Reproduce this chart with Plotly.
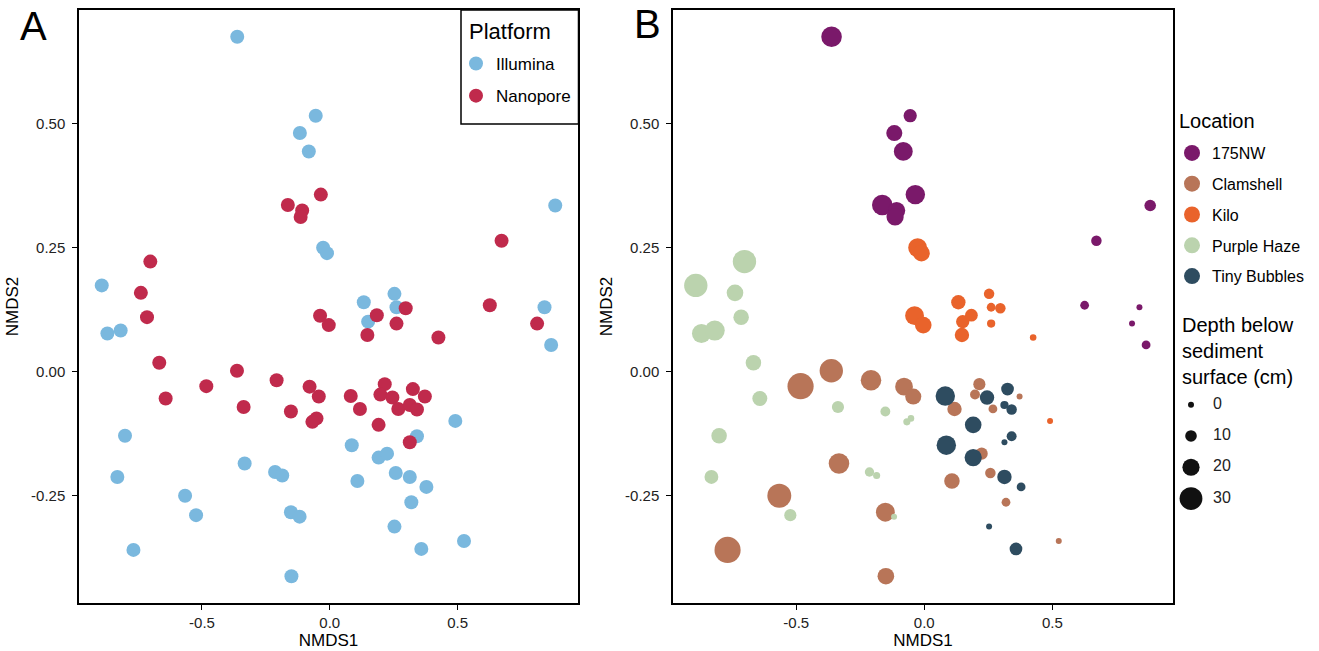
import plotly.graph_objects as go

# ---------------- data ----------------
illumina_x = [-0.362, -0.055, -0.117, -0.082, -0.026, -0.011, -0.892, -0.870, -0.818, 0.882,
              0.253, 0.133, 0.261, 0.840, 0.150, 0.866, -0.801, -0.831, -0.333, -0.214,
              -0.186, -0.566, -0.523, -0.152, -0.118, -0.768, -0.150, 0.341, 0.491, 0.086,
              0.191, 0.224, 0.258, 0.313, 0.378, 0.108, 0.319, 0.253, 0.525, 0.358]
illumina_y = [0.675, 0.516, 0.481, 0.444, 0.250, 0.239, 0.174, 0.077, 0.083, 0.335,
              0.157, 0.140, 0.130, 0.130, 0.101, 0.054, -0.129, -0.212, -0.185, -0.202,
              -0.209, -0.250, -0.289, -0.283, -0.292, -0.359, -0.412, -0.130, -0.099, -0.148,
              -0.173, -0.165, -0.204, -0.212, -0.232, -0.220, -0.263, -0.312, -0.341, -0.357]
illumina_location = ["175NW", "175NW", "175NW", "175NW", "Kilo", "Kilo", "Purple Haze", "Purple Haze", "Purple Haze", "175NW",
                     "Kilo", "Kilo", "Kilo", "175NW", "Kilo", "175NW", "Purple Haze", "Purple Haze", "Clamshell", "Purple Haze",
                     "Purple Haze", "Clamshell", "Purple Haze", "Clamshell", "Purple Haze", "Clamshell", "Clamshell", "Tiny Bubbles", "Kilo", "Tiny Bubbles",
                     "Tiny Bubbles", "Clamshell", "Clamshell", "Tiny Bubbles", "Tiny Bubbles", "Clamshell", "Clamshell", "Tiny Bubbles", "Clamshell", "Tiny Bubbles"]
illumina_depth = [26, 13, 18, 23, 23, 19, 31, 23, 25, 10,
                  8, 15, 5, 0, 13, 5, 17, 14, 26, 6,
                  2, 32, 11, 23, 0, 36, 19, 7, 0, 24,
                  20, 11, 8, 15, 5, 17, 5, 0, 0, 12]

nanopore_x = [-0.035, -0.164, -0.108, -0.114, -0.702, -0.739, -0.715, -0.038, -0.004, 0.672,
              0.297, 0.626, 0.184, 0.261, 0.811, 0.147, 0.425, -0.667, -0.363, -0.483,
              -0.642, -0.208, -0.079, -0.043, -0.337, -0.152, -0.052, -0.068, 0.082, 0.215,
              0.198, 0.245, 0.325, 0.372, 0.118, 0.268, 0.313, 0.341, 0.191, 0.313]
nanopore_y = [0.357, 0.336, 0.325, 0.312, 0.222, 0.159, 0.110, 0.113, 0.094, 0.264,
              0.128, 0.134, 0.114, 0.097, 0.097, 0.074, 0.069, 0.018, 0.002, -0.029,
              -0.054, -0.017, -0.030, -0.050, -0.071, -0.080, -0.094, -0.101, -0.049, -0.025,
              -0.046, -0.052, -0.035, -0.050, -0.075, -0.075, -0.067, -0.076, -0.107, -0.142]
nanopore_location = ["175NW", "175NW", "175NW", "175NW", "Purple Haze", "Purple Haze", "Purple Haze", "Kilo", "Kilo", "175NW",
                     "Kilo", "175NW", "Kilo", "Kilo", "175NW", "Kilo", "Kilo", "Purple Haze", "Clamshell", "Clamshell",
                     "Purple Haze", "Clamshell", "Clamshell", "Clamshell", "Purple Haze", "Purple Haze", "Purple Haze", "Purple Haze", "Tiny Bubbles", "Clamshell",
                     "Clamshell", "Tiny Bubbles", "Tiny Bubbles", "Clamshell", "Clamshell", "Clamshell", "Tiny Bubbles", "Tiny Bubbles", "Tiny Bubbles", "Tiny Bubbles"]
nanopore_depth = [24, 26, 20, 20, 31, 19, 17, 23, 19, 8,
                  8, 5, 12, 4, 0, 15, 1, 17, 31, 36,
                  16, 26, 21, 18, 11, 7, 1, 2, 24, 11,
                  7, 15, 12, 0, 15, 5, 4, 8, 19, 0]

platforms = ["Illumina", "Nanopore"]
locations = ["175NW", "Clamshell", "Kilo", "Purple Haze", "Tiny Bubbles"]
depth_legend_values = [0, 10, 20, 30]
x_tick_vals = [-0.5, 0.0, 0.5]
x_tick_text = ["-0.5", "0.0", "0.5"]
y_tick_vals = [-0.25, 0.0, 0.25, 0.50]
y_tick_text = ["-0.25", "0.00", "0.25", "0.50"]

# ---------------- style ----------------
FONT = "Liberation Sans, Arial, sans-serif"
platform_colors = {"Illumina": "#7AB8DE", "Nanopore": "#C02A4C"}
location_colors = {"175NW": "#7A196A", "Clamshell": "#B87558", "Kilo": "#E9632B",
                   "Purple Haze": "#BBD3AE", "Tiny Bubbles": "#2E4C60"}


def dsize(d):
    return 6 + 0.56 * d


all_x = illumina_x + nanopore_x
all_y = illumina_y + nanopore_y
all_loc = illumina_location + nanopore_location
all_depth = illumina_depth + nanopore_depth

fig = go.Figure()

# Panel A
plat_data = {"Illumina": (illumina_x, illumina_y), "Nanopore": (nanopore_x, nanopore_y)}
for p in platforms:
    xs, ys = plat_data[p]
    fig.add_trace(go.Scatter(x=xs, y=ys, mode="markers", name=p, legend="legend",
                             legendgroup=p,
                             marker=dict(color=platform_colors[p], size=14, opacity=1,
                                         line=dict(width=0)),
                             xaxis="x", yaxis="y"))

# Panel B
for loc in locations:
    idx = [i for i, l in enumerate(all_loc) if l == loc]
    fig.add_trace(go.Scatter(x=[all_x[i] for i in idx], y=[all_y[i] for i in idx],
                             mode="markers", name=loc, showlegend=False,
                             marker=dict(color=location_colors[loc], opacity=1,
                                         size=[dsize(all_depth[i]) for i in idx],
                                         line=dict(width=0)),
                             xaxis="x2", yaxis="y2"))
# Location legend entries
for loc in locations:
    fig.add_trace(go.Scatter(x=[None], y=[None], mode="markers", name=loc, legend="legend2",
                             legendgroup="L" + loc,
                             marker=dict(color=location_colors[loc], size=16, opacity=1),
                             xaxis="x2", yaxis="y2"))

# Depth size legend (hidden axes)
fig.add_trace(go.Scatter(x=[13] * len(depth_legend_values), y=depth_legend_values, mode="markers",
                         showlegend=False, hoverinfo="skip",
                         marker=dict(color="#111111", opacity=1,
                                     size=[dsize(v) for v in depth_legend_values],
                                     line=dict(width=0)),
                         xaxis="x3", yaxis="y3"))
fig.add_trace(go.Scatter(x=[35] * len(depth_legend_values), y=depth_legend_values, mode="text",
                         text=[str(v) for v in depth_legend_values], textposition="middle right",
                         textfont=dict(family=FONT, size=16, color="#222222"),
                         showlegend=False, hoverinfo="skip",
                         xaxis="x3", yaxis="y3"))

W, H = 1319, 651
def px(v):
    return v / W
def py(v):
    return (H - v) / H

axis_common = dict(showline=True, mirror=True, linecolor="black", linewidth=1.5,
                   ticks="outside", ticklen=5, tickwidth=1.2, tickcolor="black",
                   showgrid=False, zeroline=False, automargin=False,
                   tickfont=dict(family=FONT, size=15, color="#222222"))
xr = [-0.981, 0.971]
yr = [-0.466, 0.729]
ydom = [py(603), py(10)]

fig.update_layout(
    width=W, height=H,
    margin=dict(l=0, r=0, t=0, b=0, autoexpand=False),
    paper_bgcolor="white", plot_bgcolor="white",
    font=dict(family=FONT, color="black"),
    showlegend=True,
    xaxis=dict(domain=[px(79), px(578)], range=xr, tickvals=x_tick_vals, ticktext=x_tick_text,
               title=dict(text="NMDS1", font=dict(family=FONT, size=17), standoff=4),
               anchor="y", **axis_common),
    yaxis=dict(domain=ydom, range=yr, tickvals=y_tick_vals, ticktext=y_tick_text,
               title=dict(text="NMDS2", font=dict(family=FONT, size=17), standoff=8),
               ticklabelstandoff=4, anchor="x", **axis_common),
    xaxis2=dict(domain=[px(673), px(1173)], range=xr, tickvals=x_tick_vals, ticktext=x_tick_text,
                title=dict(text="NMDS1", font=dict(family=FONT, size=17), standoff=4),
                anchor="y2", **axis_common),
    yaxis2=dict(domain=ydom, range=yr, tickvals=y_tick_vals, ticktext=y_tick_text,
                title=dict(text="NMDS2", font=dict(family=FONT, size=17), standoff=8),
                ticklabelstandoff=4, anchor="x2", **axis_common),
    xaxis3=dict(domain=[px(1178), 1.0], range=[0, 141], visible=False, fixedrange=True,
                automargin=False),
    yaxis3=dict(domain=[py(522), py(382)], range=[37.5, -7.25], visible=False, fixedrange=True,
                anchor="x3", automargin=False),
    legend=dict(x=px(456), xanchor="left", y=py(46), yanchor="top",
                bgcolor="rgba(0,0,0,0)", borderwidth=0,
                font=dict(family=FONT, size=17), traceorder="grouped", tracegroupgap=7,
                itemsizing="trace"),
    legend2=dict(x=px(1172), xanchor="left", y=py(136), yanchor="top",
                 bgcolor="rgba(0,0,0,0)", borderwidth=0,
                 font=dict(family=FONT, size=16), traceorder="grouped", tracegroupgap=7,
                 itemsizing="trace"),
    shapes=[
        dict(type="rect", xref="paper", yref="paper", x0=px(461), x1=px(578.5),
             y0=py(124), y1=py(10), line=dict(color="black", width=1.5),
             fillcolor="rgba(0,0,0,0)", layer="above"),
    ],
    annotations=[
        dict(text="A", x=px(18), y=py(2), xref="paper", yref="paper", xanchor="left",
             yanchor="top", showarrow=False, font=dict(family=FONT, size=40, color="black")),
        dict(text="B", x=px(632), y=py(0), xref="paper", yref="paper", xanchor="left",
             yanchor="top", showarrow=False, font=dict(family=FONT, size=40, color="black")),
        dict(text="Platform", x=px(467), y=py(32), xref="paper", yref="paper", xanchor="left",
             yanchor="middle", showarrow=False, font=dict(family=FONT, size=22, color="black")),
        dict(text="Location", x=px(1177), y=py(121), xref="paper", yref="paper", xanchor="left",
             yanchor="middle", showarrow=False, font=dict(family=FONT, size=20, color="black")),
        dict(text="Depth below<br>sediment<br>surface (cm)", x=px(1180), y=py(312),
             xref="paper", yref="paper", xanchor="left", yanchor="top", align="left",
             showarrow=False, font=dict(family=FONT, size=20, color="black")),
    ],
)

fig.write_html("out.html", config={"displayModeBar": False},
               post_script="document.body.style.margin='0px';document.body.style.padding='0px';")
